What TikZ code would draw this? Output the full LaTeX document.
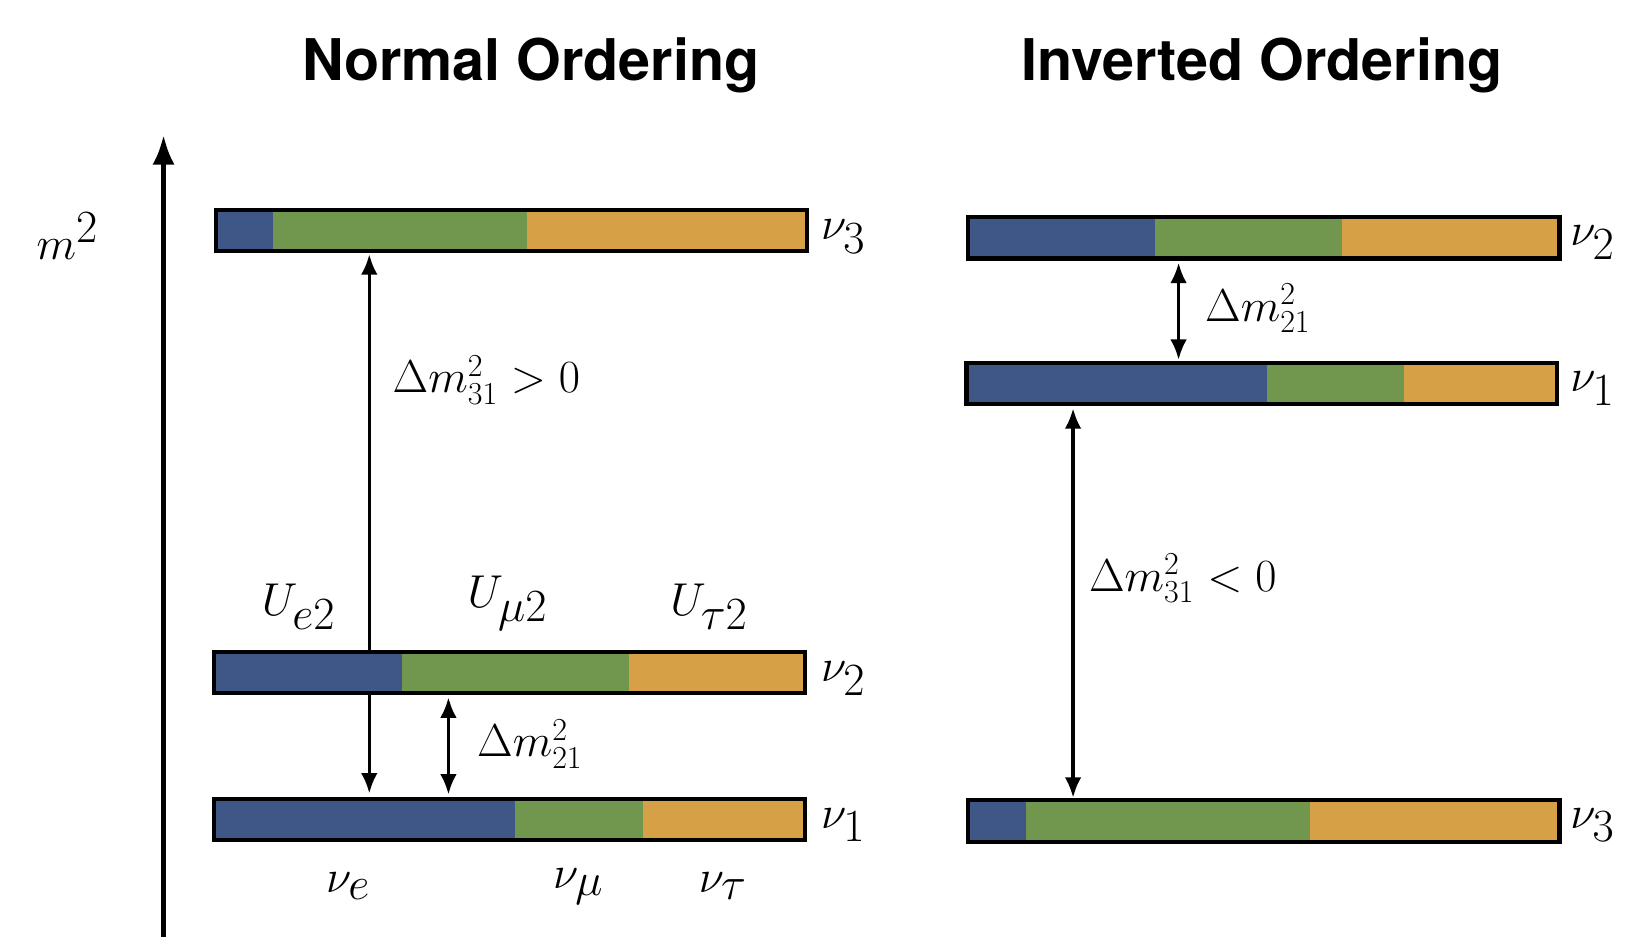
\documentclass[tikz,border=0pt]{standalone}
\usepackage{fontspec}
\setsansfont{TeX Gyre Heros}
\usetikzlibrary{arrows.meta}
\definecolor{cb}{HTML}{3F5787}
\definecolor{cg}{HTML}{71974F}
\definecolor{co}{HTML}{D6A047}
\begin{document}
\begin{tikzpicture}[x=0.02cm,y=-0.02cm,
  ttl/.style={font=\sffamily\bfseries\fontsize{31}{34}\selectfont},
  nu/.style={font=\fontsize{40}{44}\selectfont,anchor=west},
  lab/.style={font=\fontsize{25}{28}\selectfont},
  arr/.style={line width=1.8pt,-{Latex[length=11pt,width=9pt]}},
  darr/.style={line width=1.8pt,{Latex[length=11pt,width=9pt]}-{Latex[length=11pt,width=9pt]}}]
\useasboundingbox (0,0) rectangle (1560,898);
\newcommand\mbar[6]{% x1 x2 y1 y2 b g
  \fill[cb] (#1,#3) rectangle (#5,#4);
  \fill[cg] (#5,#3) rectangle (#6,#4);
  \fill[co] (#6,#3) rectangle (#2,#4);
  \draw[line width=2.2pt] (#1,#3) rectangle (#2,#4);}
\node[ttl] (t1) at (503,62) {Normal Ordering};
\node[ttl] (t2) at (1196,62) {Inverted Ordering};
\coordinate (ab) at (155,888); \coordinate (at) at (155,128);
\draw[line width=2.5pt,-{Latex[length=16pt,width=12pt]}] (ab) -- (at);
\node[font=\fontsize{58}{62}\selectfont] (m) at (64,224) {$m^2$};
\mbar{205}{765}{199}{238}{259}{499}
\mbar{203}{763}{618}{657}{381}{596}
\mbar{203}{763}{757}{796}{488}{609}
\mbar{917}{1478}{206}{245}{1095}{1272}
\mbar{916}{1476}{344}{383}{1201}{1331}
\mbar{917}{1478}{758}{798}{972}{1242}
\node[nu] (n3) at (772,224) {$\nu_3$};
\node[nu] (n2) at (772,643) {$\nu_2$};
\node[nu] (n1) at (772,782) {$\nu_1$};
\node[nu] (i2) at (1482,230) {$\nu_2$};
\node[nu] (i1) at (1482,368) {$\nu_1$};
\node[nu] (i3) at (1482,782) {$\nu_3$};
\coordinate (a1) at (350,616); \coordinate (a2) at (350,241);
\draw[arr] (a1) -- (a2);
\coordinate (b1) at (350,659); \coordinate (b2) at (350,752);
\draw[arr] (b1) -- (b2);
\coordinate (c1) at (425,661); \coordinate (c2) at (425,753);
\draw[darr] (c1) -- (c2);
\coordinate (d1) at (1117,249); \coordinate (d2) at (1117,341);
\draw[darr] (d1) -- (d2);
\coordinate (e1) at (1017,387); \coordinate (e2) at (1017,756);
\draw[darr] (e1) -- (e2);
\node[lab,anchor=west] (l1) at (366,360) {$\Delta m^2_{31}>0$};
\node[lab,anchor=west] (l2) at (446,705) {$\Delta m^2_{21}$};
\node[lab,anchor=west] (l3) at (1136,292) {$\Delta m^2_{21}$};
\node[lab,anchor=west] (l4) at (1026,548) {$\Delta m^2_{31}<0$};
\node[font=\fontsize{33}{36}\selectfont] (u1) at (283,575) {$U_{e2}$};
\node[font=\fontsize{33}{36}\selectfont] (u2) at (481,572) {$U_{\mu 2}$};
\node[font=\fontsize{33}{36}\selectfont] (u3) at (672,575) {$U_{\tau 2}$};
\node[font=\fontsize{40}{44}\selectfont] (f1) at (330,840) {$\nu_e$};
\node[font=\fontsize{40}{44}\selectfont] (f2) at (548,840) {$\nu_\mu$};
\node[font=\fontsize{40}{44}\selectfont] (f3) at (685,840) {$\nu_\tau$};
\end{tikzpicture}
\end{document}
